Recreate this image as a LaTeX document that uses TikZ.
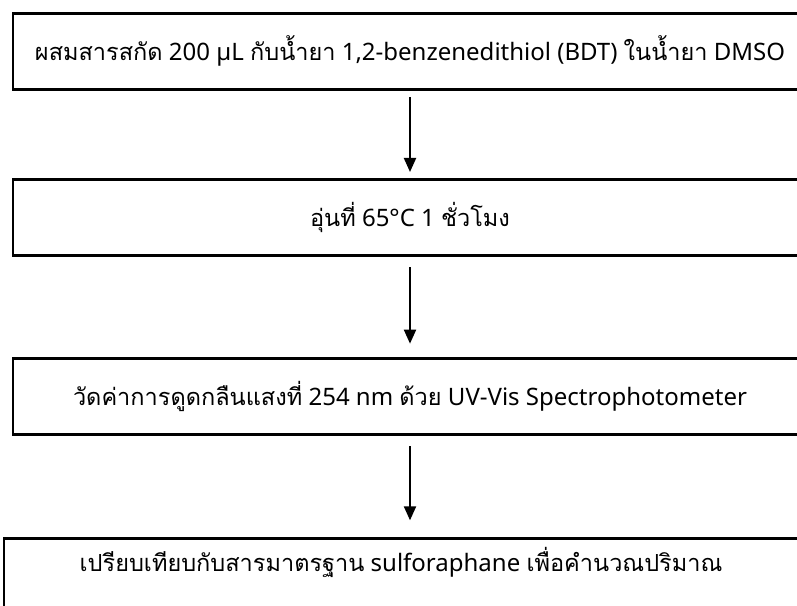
\documentclass[tikz,border=0pt]{standalone}
\usepackage{fontspec}
\setmainfont{Noto Sans}
\newfontfamily\thaifont[Script=Thai,Scale=0.98]{Loma}
\newcommand{\tht}[1]{{\thaifont #1}}
\usetikzlibrary{arrows.meta}
\tikzset{
  px/.style={x=0.75pt,y=-0.75pt},
  stepbox/.style={draw,line width=1.9pt,minimum width=595.5pt,minimum height=57pt,inner sep=0pt,font=\fontsize{18}{21}\selectfont,anchor=north},
  flow/.style={-{Triangle[width=9pt,length=10.5pt]},line width=1.5pt}
}
\begin{document}
\begin{tikzpicture}[px]
\useasboundingbox (0,0) rectangle (797,606);
\node[stepbox] (b1) at (410,12) {\tht{ผสมสารสกัด} 200 µL \tht{กับน้ำยา} 1,2-benzenedithiol (BDT) \tht{ในน้ำยา} DMSO};
\node[stepbox] (b2) at (410,178) {\tht{อุ่นที่} 65°C 1 \tht{ชั่วโมง}};
\node[stepbox] (b3) at (410,357) {\tht{วัดค่าการดูดกลืนแสงที่} 254 nm \tht{ด้วย} UV-Vis Spectrophotometer};
\node[stepbox,text depth=25pt] (b4) at (401,537) {\tht{เปรียบเทียบกับสารมาตรฐาน} sulforaphane \tht{เพื่อคำนวณปริมาณ}};
\draw[flow,shorten <=5pt,shorten >=4.5pt] (b1.south) -- (b2.north);
\draw[flow,shorten <=8pt,shorten >=10pt] (b2.south) -- (b3.north);
\draw[flow,shorten <=8pt,shorten >=12.5pt] (b3.south) -- (b3.south |- b4.north);
\end{tikzpicture}
\end{document}
